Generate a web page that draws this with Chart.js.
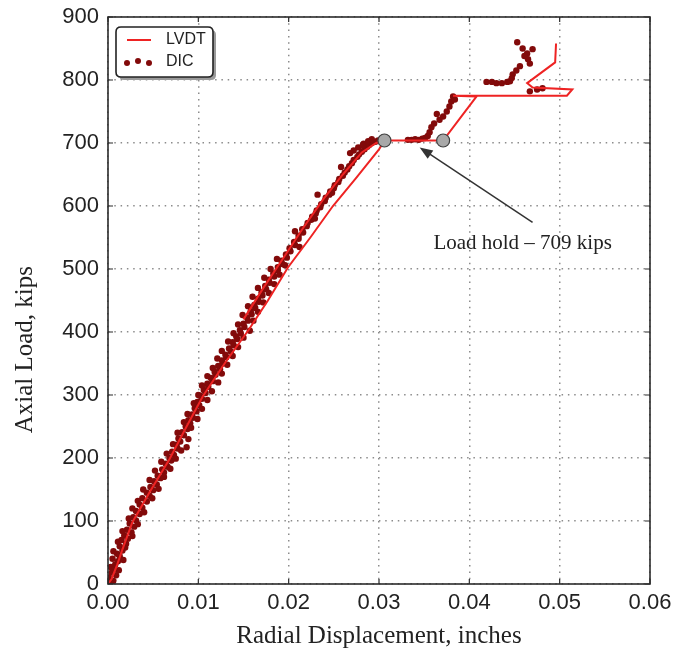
<!DOCTYPE html>
<html><head><meta charset="utf-8">
<script src="https://cdn.jsdelivr.net/npm/chart.js@4/dist/chart.umd.min.js"></script>
<style>html,body{margin:0;padding:0;background:#fff;}#wrap{width:673px;height:654px;}</style>
</head><body><div id="wrap"><canvas id="c" width="673" height="654"></canvas></div>
<script>
// ---------- data ----------
const xTicks = [0, 0.01, 0.02, 0.03, 0.04, 0.05, 0.06];
const xTickLabels = ['0.00', '0.01', '0.02', '0.03', '0.04', '0.05', '0.06'];
const yTicks = [0, 100, 200, 300, 400, 500, 600, 700, 800, 900];
const yTickLabels = ['0', '100', '200', '300', '400', '500', '600', '700', '800', '900'];

const xTitle = 'Radial Displacement, inches';
const yTitle = 'Axial Load, kips';
const annotationText = 'Load hold \u2013 709 kips';

// LVDT main trace
const lvdtX = [0, 0.0004, 0.0010, 0.0016, 0.0027, 0.0047, 0.0068, 0.0087, 0.0105, 0.0130, 0.0156, 0.0177, 0.0199, 0.0224, 0.0249, 0.0275, 0.0300, 0.0306, 0.0371, 0.0408, 0.0382, 0.0508, 0.0514, 0.0470, 0.0464, 0.0495, 0.0496];
const lvdtY = [0, 8, 30, 55, 98, 148, 198, 250, 298, 352, 404, 450, 502, 550, 600, 645, 690, 704, 704, 774, 775, 775, 785, 788, 795, 828, 858];
// LVDT second branch (upper part of loading curve)
const lvdt2X = [0.0150, 0.0172, 0.0193, 0.0216, 0.0238, 0.0260, 0.0281, 0.0297, 0.0306];
const lvdt2Y = [420, 470, 515, 565, 610, 650, 685, 700, 704];

// DIC points
const dicX = [0.0002,0.0006,0.0001,0.0009,0.0004,0.0012,0.0003,0.0008,0.0011,0.0005,0.0013,
0.0010,0.0016,0.0013,0.0020,0.0011,0.0022,0.0018,0.0026,0.0021,0.0029,0.0024,0.0031,
0.0028,0.0035,0.0031,0.0038,0.0035,0.0043,0.0038,0.0046,0.0043,0.0050,
0.0047,0.0054,0.0051,0.0058,0.0055,0.0062,0.0060,0.0066,0.0064,0.0070,0.0068,
0.0073,0.0071,0.0077,0.0087,0.0076,0.0080,0.0078,0.0084,0.0082,0.0088,0.0086,
0.0091,0.0089,0.0094,0.0093,0.0098,0.0096,0.0101,0.0099,0.0104,0.0102,
0.0108,0.0106,0.0111,0.0110,0.0116,0.0114,0.0119,0.0118,0.0124,0.0122,0.0127,
0.0126,0.0131,0.0130,0.0136,0.0134,0.0139,0.0138,0.0143,0.0142,0.0147,
0.0146,0.0151,0.0150,0.0155,0.0154,0.0159,0.0158,0.0163,0.0162,0.0167,
0.0166,0.0171,0.0170,0.0175,0.0174,0.0179,0.0178,0.0184,0.0183,0.0188,
0.0188,0.0193,0.0192,0.0198,0.0197,0.0202,0.0201,0.0207,0.0206,0.0211,
0.0211,0.0216,0.0215,0.0220,0.0221,0.0225,0.0226,0.0230,0.0231,0.0235,
0.0236,0.0240,0.0241,0.0245,0.0246,0.0250,0.0251,0.0255,0.0256,0.0260,
0.0262,0.0265,0.0267,0.0270,0.0272,0.0276,0.0278,0.0281,0.0284,0.0287,0.0289,0.0292,0.0296,0.0299,0.0303,0.0277,0.0272,0.0283,0.0288,
0.0000,0.0007,0.0017,0.0006,0.0019,0.0015,0.0027,0.0016,0.0033,0.0023,0.0040,0.0027,0.0033,0.0049,0.0039,0.0056,0.0046,0.0062,
0.0052,0.0069,0.0059,0.0075,0.0065,0.0081,0.0072,0.0089,0.0077,0.0092,0.0084,0.0099,0.0088,0.0104,0.0095,0.0110,0.0100,0.0115,
0.0104,0.0122,0.0110,0.0126,0.0116,0.0132,0.0121,0.0138,0.0126,0.0144,0.0133,0.0150,0.0139,0.0157,0.0144,0.0161,0.0149,0.0166,
0.0155,0.0172,0.0160,0.0178,0.0166,0.0184,0.0173,0.0190,0.0180,0.0196,0.0187,0.0212,0.0207,0.0229,0.0232,0.0248,0.0258,0.0268,0.0282,0.0292,
0.0332,0.0336,0.0340,0.0344,0.0348,0.0351,0.0354,
0.0356,0.0358,0.0361,0.0364,0.0367,0.0371,0.0375,0.0378,0.0380,0.0382,0.0384,
0.0419,0.0425,0.0430,0.0436,0.0442,0.0445,0.0448,0.0452,0.0456,0.0465,0.0467,0.0464,0.0459,0.0453,0.0470,0.0467,0.0475,0.0481,0.0461,0.0447];
const dicY = [2,5,10,14,18,22,27,31,36,40,44,
48,53,60,64,67,72,77,82,86,91,96,101,
106,111,116,121,126,131,136,140,145,149,
154,158,163,168,172,177,182,186,191,196,200,
205,210,215,217,221,226,231,236,241,246,250,
255,260,264,269,274,279,284,289,294,299,
303,308,313,318,322,327,332,337,341,346,350,
355,360,364,369,374,379,384,389,393,398,
403,408,413,418,423,428,433,438,443,448,
453,458,463,468,473,478,483,488,493,498,
503,508,513,518,523,528,533,538,543,548,
553,558,563,568,573,578,583,588,593,598,
603,608,613,618,623,628,633,638,643,648,
653,658,663,668,673,678,682,686,690,694,697,700,702,704,706,693,688,699,703,
6,24,38,52,58,70,76,84,95,104,114,120,132,136,150,151,165,170,
180,183,194,199,207,212,222,230,240,248,257,262,270,278,287,292,300,306,
315,320,330,334,343,348,358,362,370,376,385,391,398,402,412,418,427,432,
441,447,456,462,470,476,486,491,500,506,516,535,560,580,618,621,662,684,696,706,
705,705,706,705,707,708,711,
717,725,731,746,737,742,750,758,766,774,769,
797,797,795,795,797,798,809,815,822,833,826,842,850,860,849,782,785,787,838,803];

// Load hold start / end markers
const holdX = [0.0306, 0.0371];
const holdY = [704, 704];

// ---------- styles ----------
const RED = '#ee2323';
const DARK = '#820a0a';
const TXT = '#222222';
const SERIF = '"Liberation Serif", "Times New Roman", serif';
const SANS = '"Liberation Sans", Arial, sans-serif';

const toPts = (xs, ys) => xs.map((x, i) => ({x: x, y: ys[i]}));

const overlay = {
  id: 'overlay',
  afterDraw(chart) {
    const {ctx, chartArea: a, scales: {x, y}} = chart;
    ctx.save();
    // frame
    ctx.strokeStyle = '#2b2b2b';
    ctx.lineWidth = 1.6;
    ctx.strokeRect(a.left, a.top, a.right - a.left, a.bottom - a.top);
    // inward ticks on all sides
    ctx.lineWidth = 1.2;
    ctx.beginPath();
    xTicks.forEach(v => {
      const px = x.getPixelForValue(v);
      ctx.moveTo(px, a.bottom); ctx.lineTo(px, a.bottom - 5);
      ctx.moveTo(px, a.top); ctx.lineTo(px, a.top + 5);
    });
    yTicks.forEach(v => {
      const py = y.getPixelForValue(v);
      ctx.moveTo(a.left, py); ctx.lineTo(a.left + 5, py);
      ctx.moveTo(a.right, py); ctx.lineTo(a.right - 5, py);
    });
    ctx.stroke();

    // y axis title (placed as in the source figure, below the axis centre)
    ctx.save();
    ctx.translate(25, y.getPixelForValue(372));
    ctx.rotate(-Math.PI / 2);
    ctx.fillStyle = TXT;
    ctx.font = '25px ' + SERIF;
    ctx.textAlign = 'center';
    ctx.textBaseline = 'middle';
    ctx.fillText(yTitle, 0, 0);
    ctx.restore();

    // arrow
    const tx = x.getPixelForValue(0.0345), ty = y.getPixelForValue(693);
    const sx = x.getPixelForValue(0.0470), sy = y.getPixelForValue(574);
    const ang = Math.atan2(ty - sy, tx - sx);
    const hl = 13, hw = 5;
    ctx.strokeStyle = '#333';
    ctx.fillStyle = '#333';
    ctx.lineWidth = 1.5;
    ctx.beginPath();
    ctx.moveTo(sx, sy);
    ctx.lineTo(tx - hl * 0.8 * Math.cos(ang), ty - hl * 0.8 * Math.sin(ang));
    ctx.stroke();
    ctx.beginPath();
    ctx.moveTo(tx, ty);
    ctx.lineTo(tx - hl * Math.cos(ang) + hw * Math.sin(ang), ty - hl * Math.sin(ang) - hw * Math.cos(ang));
    ctx.lineTo(tx - hl * Math.cos(ang) - hw * Math.sin(ang), ty - hl * Math.sin(ang) + hw * Math.cos(ang));
    ctx.closePath();
    ctx.fill();

    // annotation text
    ctx.fillStyle = TXT;
    ctx.font = '21px ' + SERIF;
    ctx.textAlign = 'center';
    ctx.textBaseline = 'alphabetic';
    ctx.fillText(annotationText, x.getPixelForValue(0.0459), y.getPixelForValue(532));

    // legend box
    const lx = a.left + 8, ly = a.top + 10, lw = 97, lh = 50, r = 5;
    const rr = (X, Y) => {
      ctx.beginPath();
      ctx.moveTo(X + r, Y);
      ctx.lineTo(X + lw - r, Y); ctx.quadraticCurveTo(X + lw, Y, X + lw, Y + r);
      ctx.lineTo(X + lw, Y + lh - r); ctx.quadraticCurveTo(X + lw, Y + lh, X + lw - r, Y + lh);
      ctx.lineTo(X + r, Y + lh); ctx.quadraticCurveTo(X, Y + lh, X, Y + lh - r);
      ctx.lineTo(X, Y + r); ctx.quadraticCurveTo(X, Y, X + r, Y);
      ctx.closePath();
    };
    ctx.fillStyle = '#9a9a9a';
    rr(lx + 3, ly + 3); ctx.fill();
    ctx.fillStyle = '#ffffff';
    rr(lx, ly); ctx.fill();
    ctx.strokeStyle = '#222'; ctx.lineWidth = 1.6; ctx.stroke();

    const dsL = chart.data.datasets[1], dsD = chart.data.datasets[0];
    ctx.strokeStyle = RED; ctx.lineWidth = 2;
    ctx.beginPath(); ctx.moveTo(lx + 11, ly + 13); ctx.lineTo(lx + 35, ly + 13); ctx.stroke();
    ctx.fillStyle = DARK;
    [[11, 36], [22, 34], [33, 36]].forEach(p => {
      ctx.beginPath(); ctx.arc(lx + p[0], ly + p[1], 3, 0, Math.PI * 2); ctx.fill();
    });
    ctx.fillStyle = TXT;
    ctx.font = '16px ' + SANS;
    ctx.textAlign = 'left';
    ctx.textBaseline = 'middle';
    ctx.fillText(dsL.label, lx + 50, ly + 13);
    ctx.fillText(dsD.label, lx + 50, ly + 35);
    ctx.restore();
  }
};

new Chart(document.getElementById('c').getContext('2d'), {
  type: 'scatter',
  data: {
    datasets: [
      {label: 'DIC', data: toPts(dicX, dicY), showLine: false, pointRadius: 3.2,
       pointBackgroundColor: DARK, pointBorderWidth: 0, pointHoverRadius: 3.2, order: 3},
      {label: 'LVDT', data: toPts(lvdtX, lvdtY), showLine: true, borderColor: RED, borderWidth: 2,
       pointRadius: 0, pointHoverRadius: 0, tension: 0, order: 2},
      {label: 'LVDT branch', data: toPts(lvdt2X, lvdt2Y), showLine: true, borderColor: RED, borderWidth: 2,
       pointRadius: 0, pointHoverRadius: 0, tension: 0, order: 2},
      {label: 'Load hold', data: toPts(holdX, holdY), showLine: false, pointRadius: 6.5,
       pointBackgroundColor: '#a8a8a8', pointBorderColor: '#404040', pointBorderWidth: 1.2, order: 1}
    ]
  },
  options: {
    responsive: false,
    animation: false,
    devicePixelRatio: 1,
    layout: {padding: {top: 17, right: 23, left: 0, bottom: 0}},
    plugins: {legend: {display: false}, tooltip: {enabled: false}},
    scales: {
      x: {
        type: 'linear', min: 0, max: 0.06,
        afterBuildTicks: s => { s.ticks = xTicks.map(v => ({value: v})); },
        afterFit: s => { s.height = 70; s.paddingLeft = 0; s.paddingRight = 0; },
        ticks: {callback: v => xTickLabels[xTicks.indexOf(v)], font: {family: SANS, size: 22},
                color: TXT, padding: 6, maxRotation: 0, autoSkip: false},
        grid: {color: '#8c8c8c', lineWidth: 1.5, drawTicks: false},
        border: {display: false, dash: [1.5, 4.8]},
        title: {display: true, text: xTitle, font: {family: SERIF, size: 25},
                color: TXT, padding: {top: 0, bottom: 3}}
      },
      y: {
        type: 'linear', min: 0, max: 900,
        afterBuildTicks: s => { s.ticks = yTicks.map(v => ({value: v})); },
        afterFit: s => { s.width = 108; s.paddingTop = 0; s.paddingBottom = 0; },
        ticks: {callback: v => yTickLabels[yTicks.indexOf(v)], font: {family: SANS, size: 22},
                color: TXT, padding: 9, autoSkip: false},
        grid: {color: '#8c8c8c', lineWidth: 1.5, drawTicks: false},
        border: {display: false, dash: [1.5, 4.8]},
        title: {display: false, text: yTitle}
      }
    }
  },
  plugins: [overlay]
});
</script>
</body></html>
